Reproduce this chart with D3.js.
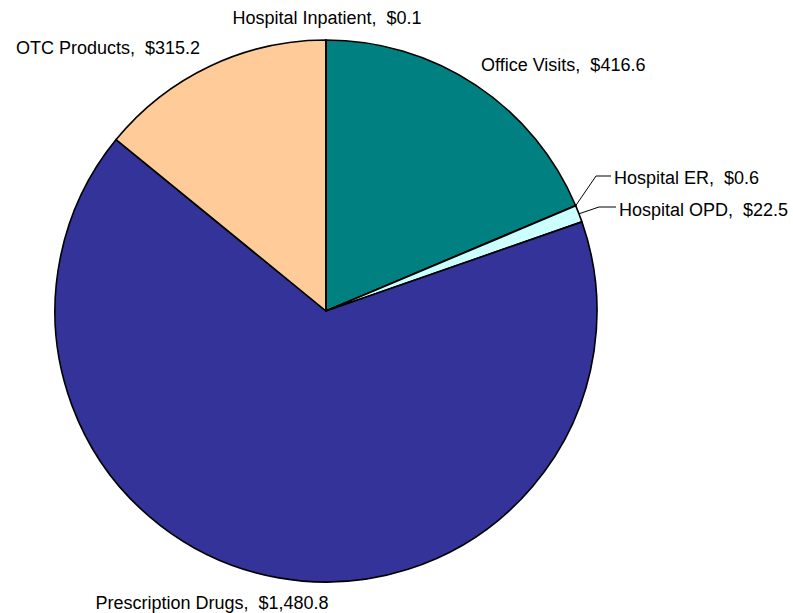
<!DOCTYPE html>
<html>
<head>
<meta charset="utf-8">
<script src="https://cdn.jsdelivr.net/npm/d3@7"></script>
<style>
  body { margin: 0; background: #fff; }
  text { font-family: "Liberation Sans", Arial, sans-serif; font-size: 18px; white-space: pre; fill: #000; }
</style>
</head>
<body>
<div id="graf"></div>
<script>
// datos
categorias = ['Office Visits', 'Hospital ER', 'Hospital OPD', 'Prescription Drugs', 'OTC Products', 'Hospital Inpatient']
valores = [416.6, 0.6, 22.5, 1480.8, 315.2, 0.1]
etiquetas = ['$416.6', '$0.6', '$22.5', '$1,480.8', '$315.2', '$0.1']
colores = ['#008080', '#ffffff', '#ccffff', '#333399', '#ffcc99', '#ffffff']

// configuración
ancho = 793
alto = 613
cx = 326
cy = 311
radio = 271

// posición de etiquetas (x, y de la línea base, anchor)
posEtiquetas = [
  { x: 481, y: 71, anchor: 'start' },
  { x: 614, y: 184, anchor: 'start', guia: [[596, 176], [611, 176]] },
  { x: 619, y: 216, anchor: 'start', guia: [[599, 207], [616, 207]] },
  { x: 212, y: 609, anchor: 'middle' },
  { x: 200, y: 54, anchor: 'end' },
  { x: 327, y: 24, anchor: 'middle' }
]

svg = d3.select('#graf').append('svg')
  .attr('width', ancho)
  .attr('height', alto)

g = svg.append('g')
  .attr('transform', `translate(${cx}, ${cy})`)

datos = categorias.map((c, i) => ({ cat: c, valor: valores[i], etiqueta: etiquetas[i], color: colores[i] }))

pie = d3.pie().value(d => d.valor).sort(null)
arco = d3.arc().innerRadius(0).outerRadius(radio)

arcos = pie(datos)

g.selectAll('path')
  .data(arcos)
  .enter()
  .append('path')
  .attr('d', arco)
  .attr('fill', d => d.data.color)
  .attr('stroke', '#000')
  .attr('stroke-width', 1.6)
  .attr('stroke-linejoin', 'round')

// líneas guía
arcos.forEach((d, i) => {
  p = posEtiquetas[i]
  if (!p.guia) return
  a = (d.startAngle + d.endAngle) / 2
  x0 = cx + radio * Math.sin(a)
  y0 = cy - radio * Math.cos(a)
  puntos = [[x0, y0]].concat(p.guia)
  svg.append('path')
    .attr('d', d3.line()(puntos))
    .attr('fill', 'none')
    .attr('stroke', '#000')
    .attr('stroke-width', 1)
})

svg.selectAll('text.lbl')
  .data(arcos)
  .enter()
  .append('text')
  .attr('class', 'lbl')
  .attr('x', (d, i) => posEtiquetas[i].x)
  .attr('y', (d, i) => posEtiquetas[i].y)
  .attr('text-anchor', (d, i) => posEtiquetas[i].anchor)
  .text(d => `${d.data.cat},  ${d.data.etiqueta}`)
</script>
</body>
</html>
